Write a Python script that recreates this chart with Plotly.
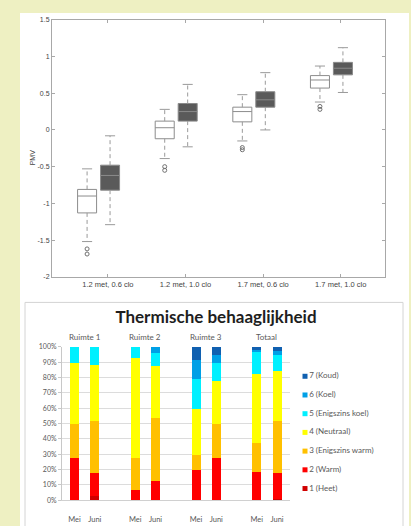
import plotly.graph_objects as go

W, H = 411, 526

# ---------------- data: top box plot (PMV) ----------------
groups = ["1.2 met, 0.6 clo", "1.2 met, 1.0 clo", "1.7 met, 0.6 clo", "1.7 met, 1.0 clo"]
# white boxes
q1_a = [-1.13, -0.12, 0.11, 0.57]
med_a = [-0.90, 0.03, 0.25, 0.68]
q3_a = [-0.81, 0.12, 0.31, 0.74]
lo_a = [-1.52, -0.39, -0.15, 0.38]
hi_a = [-0.53, 0.28, 0.48, 0.87]
out_a = [[-1.62, -1.69], [-0.50, -0.55], [-0.24, -0.27], [0.32, 0.28]]
# grey boxes
q1_b = [-0.82, 0.12, 0.31, 0.75]
med_b = [-0.62, 0.25, 0.41, 0.84]
q3_b = [-0.48, 0.36, 0.52, 0.92]
lo_b = [-1.29, -0.23, 0.00, 0.51]
hi_b = [-0.08, 0.62, 0.78, 1.12]
pmv_ticks = [-2, -1.5, -1, -0.5, 0, 0.5, 1, 1.5]

# ---------------- data: bottom stacked bars ----------------
rooms = ["Ruimte 1", "Ruimte 2", "Ruimte 3", "Totaal"]
months = ["Mei", "Juni"]
cat_names = ["1 (Heet)", "2 (Warm)", "3 (Enigszins warm)", "4 (Neutraal)",
             "5 (Enigszins koel)", "6 (Koel)", "7 (Koud)"]
heet = [0, 3, 0, 0, 0, 0, 0, 1]
warm = [27.6, 14.5, 6.8, 12.6, 19.7, 27.6, 18.6, 16.9]
eig_warm = [22.4, 34.4, 20.8, 41.2, 10.0, 21.8, 18.6, 33.8]
neutraal = [39.1, 35.9, 65.1, 33.6, 29.9, 28.4, 45.3, 32.5]
eig_koel = [10.9, 12.2, 7.3, 8.5, 19.7, 11.7, 13.9, 10.7]
koel = [0, 0, 0, 4.1, 12.1, 5.0, 1.3, 2.5]
koud = [0, 0, 0, 0, 8.6, 5.5, 2.3, 2.6]
series = [heet, warm, eig_warm, neutraal, eig_koel, koel, koud]
colors = ["#d00000", "#ff0000", "#ffc000", "#ffff00", "#00f0ff", "#00a0e6", "#1060b0"]

fig = go.Figure()

# ---------------- top chart ----------------
off = 0.148
pos_a = [g - off for g in range(len(groups))]
pos_b = [g + off for g in range(len(groups))]
bw = 0.245
capw = 0.065

def whiskers(pos, q1, q3, lo, hi):
    xs, ys, cx, cy = [], [], [], []
    for p, a, b, l, h in zip(pos, q1, q3, lo, hi):
        xs += [p, p, None, p, p, None]
        ys += [b, h, None, a, l, None]
        cx += [p - capw, p + capw, None, p - capw, p + capw, None]
        cy += [h, h, None, l, l, None]
    return xs, ys, cx, cy

for pos, q1, q3, lo, hi in [(pos_a, q1_a, q3_a, lo_a, hi_a), (pos_b, q1_b, q3_b, lo_b, hi_b)]:
    xs, ys, cx, cy = whiskers(pos, q1, q3, lo, hi)
    fig.add_trace(go.Scatter(x=xs, y=ys, mode="lines", line=dict(color="#9a9a9a", width=1, dash="4px,3px"),
                             xaxis="x", yaxis="y", hoverinfo="skip", showlegend=False))
    fig.add_trace(go.Scatter(x=cx, y=cy, mode="lines", line=dict(color="#9a9a9a", width=1),
                             xaxis="x", yaxis="y", hoverinfo="skip", showlegend=False))

fig.add_trace(go.Box(x=pos_a, q1=q1_a, median=med_a, q3=q3_a, lowerfence=q1_a, upperfence=q3_a,
                     width=bw, whiskerwidth=0, boxpoints=False, fillcolor="white",
                     line=dict(color="#8c8c8c", width=1), xaxis="x", yaxis="y", showlegend=False))
fig.add_trace(go.Box(x=pos_b, q1=q1_b, median=med_b, q3=q3_b, lowerfence=q1_b, upperfence=q3_b,
                     width=bw, whiskerwidth=0, boxpoints=False, fillcolor="#5a5a5a",
                     line=dict(color="#8a8a8a", width=1), xaxis="x", yaxis="y", showlegend=False))

ox, oy = [], []
for p, outs in zip(pos_a, out_a):
    for v in outs:
        ox.append(p)
        oy.append(v)
fig.add_trace(go.Scatter(x=ox, y=oy, mode="markers",
                         marker=dict(symbol="circle-open", size=4, color="#707070", line=dict(width=1)),
                         xaxis="x", yaxis="y", hoverinfo="skip", showlegend=False))

# ---------------- bottom chart ----------------
bar_x = []
bar_text = []
for r in range(len(rooms)):
    for m in range(len(months)):
        bar_x.append(3 * r + m)
        bar_text.append(months[m])

for name, vals, col in zip(cat_names, series, colors):
    fig.add_trace(go.Bar(x=bar_x, y=[v / 100 for v in vals], name=name, marker=dict(color=col, line=dict(width=0)),
                         width=0.44, xaxis="x2", yaxis="y2", showlegend=False))

# manual legend (Excel style)
fig.add_trace(go.Scatter(x=[0.5] * len(cat_names), y=list(range(len(cat_names))), mode="markers+text",
                         text=cat_names, textposition="middle right",
                         textfont=dict(family="Lato", size=8, color="#595959"),
                         marker=dict(symbol="square", size=5, color=colors),
                         xaxis="x3", yaxis="y3", hoverinfo="skip", showlegend=False, cliponaxis=False))

def px_x(p):
    return p / W

def px_y(p):
    return 1 - p / H

axis_col = "#a8a8a8"
fig.update_layout(
    width=W, height=H, margin=dict(l=0, r=0, t=0, b=0),
    paper_bgcolor="#eef0c2", plot_bgcolor="white",
    showlegend=False, barmode="stack",
    title=dict(text="Thermische behaaglijkheid", x=px_x(216), y=px_y(317), xanchor="center", yanchor="middle",
               xref="paper", yref="paper",
               font=dict(family="Lato", size=17, color="#1e1e1e", weight="bold")),
    xaxis=dict(domain=[px_x(52), px_x(385)], anchor="y", range=[-0.6, 3.69],
               tickvals=[g + 0.12 for g in range(len(groups))], ticktext=groups,
               ticks="inside", ticklen=3, tickcolor=axis_col, showline=True, mirror="ticks",
               linecolor=axis_col, showgrid=False, zeroline=False,
               tickfont=dict(family="Liberation Sans", size=7.5, color="#444")),
    yaxis=dict(domain=[px_y(276), px_y(15)], anchor="x", range=[-2, 1.5],
               tickvals=pmv_ticks, ticktext=[f"{v:g}" for v in pmv_ticks],
               ticks="inside", ticklen=3, tickcolor=axis_col, showline=True, mirror="ticks",
               linecolor=axis_col, showgrid=False, zeroline=False,
               tickfont=dict(family="Liberation Sans", size=7, color="#444")),
    xaxis2=dict(domain=[px_x(62), px_x(290)], anchor="y2", range=[-0.62, 10.64],
                tickvals=bar_x, ticktext=bar_text, ticks="", ticklabelstandoff=12,
                showline=True, linecolor="#d0d0d0", showgrid=False, zeroline=False,
                tickfont=dict(family="Lato", size=7.5, color="#595959")),
    yaxis2=dict(domain=[px_y(503), px_y(347)], anchor="x2", range=[0, 1], dtick=0.1, tickformat=".0%",
                ticks="outside", ticklen=3, tickcolor="#c8c8c8", showline=True, linecolor="#c8c8c8",
                gridcolor="#dcdcdc", gridwidth=1, zeroline=False,
                tickfont=dict(family="Lato", size=7, color="#595959")),
    xaxis3=dict(domain=[px_x(300), px_x(400)], anchor="y3", range=[0, 10], visible=False),
    yaxis3=dict(domain=[px_y(500.5), px_y(367.5)], anchor="x3", range=[-0.5, 6.5], visible=False),
    shapes=[
        dict(type="rect", xref="paper", yref="paper", x0=px_x(20), x1=px_x(409), y0=-0.01, y1=px_y(8),
             fillcolor="white", line=dict(width=0), layer="below"),
        dict(type="rect", xref="paper", yref="paper", x0=px_x(25), x1=px_x(403), y0=-0.01, y1=px_y(302),
             fillcolor="rgba(0,0,0,0)", line=dict(color="#d4d4d4", width=1), layer="below"),
    ],
    annotations=[
        dict(text="PMV", x=px_x(27), y=px_y(145), xref="paper", yref="paper", textangle=-90,
             showarrow=False, font=dict(family="Liberation Sans", size=7, color="#444")),
    ] + [
        dict(text=rooms[r], x=3 * r + 0.5, y=px_y(337), xref="x2", yref="paper", showarrow=False,
             font=dict(family="Lato", size=8, color="#595959"))
        for r in range(len(rooms))
    ],
)

fig.write_html("out.html", config={"displayModeBar": False},
               post_script="document.body.style.margin='0';")
